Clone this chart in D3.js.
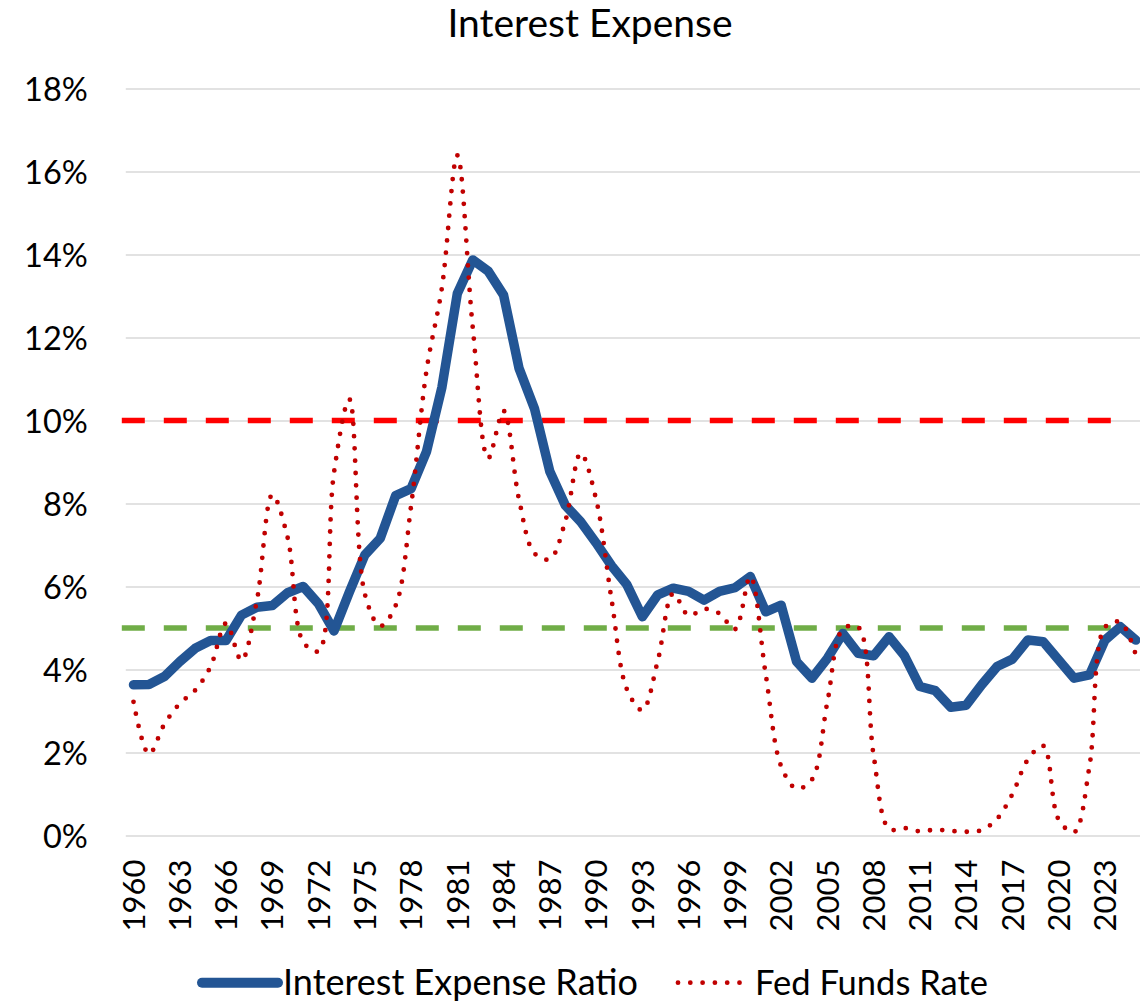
<!DOCTYPE html>
<meta charset="utf-8">
<style>
  body { margin: 0; background: #fff; }
  svg text { font-family: Lato, "Open Sans", sans-serif; fill: #000; }
</style>
<svg width="1140" height="1001" class="chart"></svg>
<script src="https://cdn.jsdelivr.net/npm/d3@7/dist/d3.min.js"></script>
<script>

// categories: one per year, labels every 3rd year
var years = [1960, 1961, 1962, 1963, 1964, 1965, 1966, 1967, 1968, 1969,
    1970, 1971, 1972, 1973, 1974, 1975, 1976, 1977, 1978, 1979,
    1980, 1981, 1982, 1983, 1984, 1985, 1986, 1987, 1988, 1989,
    1990, 1991, 1992, 1993, 1994, 1995, 1996, 1997, 1998, 1999,
    2000, 2001, 2002, 2003, 2004, 2005, 2006, 2007, 2008, 2009,
    2010, 2011, 2012, 2013, 2014, 2015, 2016, 2017, 2018, 2019,
    2020, 2021, 2022, 2023, 2024, 2025];

var yearLabels = [1960, 1963, 1966, 1969, 1972, 1975, 1978, 1981, 1984, 1987, 1990,
    1993, 1996, 1999, 2002, 2005, 2008, 2011, 2014, 2017, 2020, 2023];

// % values
var interestRatio = [3.63, 3.64, 3.83, 4.19, 4.51, 4.70, 4.70, 5.31, 5.50, 5.54,
    5.85, 6.00, 5.58, 4.93, 5.87, 6.76, 7.16, 8.19, 8.36, 9.25,
    10.8, 13.06, 13.87, 13.6, 13.02, 11.26, 10.29, 8.77, 7.96, 7.56,
    7.05, 6.5, 6.04, 5.27, 5.80, 5.96, 5.88, 5.67, 5.88, 5.97,
    6.24, 5.39, 5.55, 4.19, 3.79, 4.27, 4.87, 4.39, 4.33, 4.79,
    4.33, 3.59, 3.49, 3.09, 3.14, 3.63, 4.07, 4.25, 4.71, 4.67,
    4.23, 3.79, 3.87, 4.71, 5.03, 4.71];

var fedFunds = [3.22, 1.96, 2.68, 3.18, 3.50, 4.07, 5.11, 4.22, 5.66, 8.21,
    7.17, 4.67, 4.44, 8.74, 10.51, 5.82, 5.05, 5.54, 7.94, 11.2,
    13.2, 16.39, 12.24, 9.09, 10.23, 8.10, 6.80, 6.66, 7.57, 9.21,
    8.10, 5.69, 3.52, 3.02, 4.21, 5.83, 5.30, 5.46, 5.35, 4.97,
    6.24, 3.88, 1.67, 1.13, 1.35, 3.22, 4.97, 5.02, 1.92, 0.16,
    0.18, 0.10, 0.14, 0.11, 0.09, 0.13, 0.40, 1.00, 1.83, 2.16,
    0.38, 0.08, 1.68, 5.02, 5.14, 4.35];

var yTicks = [0, 2, 4, 6, 8, 10, 12, 14, 16, 18];

// horizontal reference levels (they stop at 2023)
var refLevels = [10, 5];
var refColors = ["#FF0000", "#70AD47"];
var refEnd = 2023;

var seriesNames = ["Interest Expense Ratio", "Fed Funds Rate"];

var svg = d3.select("svg.chart"),
    margin = {top: 88.5, left: 125.8, bottom: 165.5},
    band = 15.42,
    width = band * years.length,
    height = +svg.attr("height") - margin.top - margin.bottom;

var x = d3.scaleBand()
    .domain(years)
    .range([0, width])
    .padding(0);

var y = d3.scaleLinear()
    .domain([0, 18])
    .range([height, 0]);

function cx(d, i) { return x(years[i]) + x.bandwidth() / 2; }

svg.append("text")
    .attr("x", 590)
    .attr("y", 36.7)
    .attr("text-anchor", "middle")
    .style("font-size", "39px")
    .text("Interest Expense");

var g = svg.append("g")
    .attr("transform", "translate(" + margin.left + "," + margin.top + ")");

// gridlines
var yAxis = d3.axisLeft(y)
    .tickValues(yTicks)
    .tickSize(-(width + 2))
    .tickPadding(38)
    .tickFormat(function(d) { return d + "%"; });

g.append("g")
    .attr("class", "axis axis--y")
    .call(yAxis)
    .call(function(a) {
        a.select(".domain").remove();
        a.selectAll(".tick line").attr("stroke", "#D9D9D9").attr("stroke-width", 1.6);
        a.selectAll(".tick text").style("font-size", "32.5px").attr("dy", "0.36em");
    });

// x axis: rotated year labels, no line, no ticks
var xAxis = d3.axisBottom(x)
    .tickValues(yearLabels)
    .tickSize(0)
    .tickFormat(d3.format("d"));

g.append("g")
    .attr("class", "axis axis--x")
    .attr("transform", "translate(0," + height + ")")
    .call(xAxis)
    .call(function(a) {
        a.select(".domain").remove();
        a.selectAll(".tick text")
            .style("font-size", "31px")
            .attr("text-anchor", "end")
            .attr("transform", "translate(0,24) rotate(-90)")
            .attr("x", 0)
            .attr("y", 0)
            .attr("dy", "0.36em");
    });

// reference dashed lines
g.selectAll("line.ref")
    .data(refLevels)
    .enter()
    .append("line")
    .classed("ref", true)
    .attr("x1", x(years[0]) - 4)
    .attr("x2", x(refEnd) + x.bandwidth())
    .attr("y1", function(d) { return y(d); })
    .attr("y2", function(d) { return y(d); })
    .attr("stroke", function(d, i) { return refColors[i]; })
    .attr("stroke-width", 5.5)
    .attr("stroke-dasharray", "23,19");

var ratioLine = d3.line()
    .x(cx)
    .y(function(d) { return y(d); });

var fedLine = d3.line()
    .curve(d3.curveCatmullRom.alpha(0.5))
    .x(cx)
    .y(function(d) { return y(d); });

g.append("path")
    .datum(interestRatio)
    .attr("fill", "none")
    .attr("stroke", "#235594")
    .attr("stroke-width", 9.5)
    .attr("stroke-linejoin", "round")
    .attr("stroke-linecap", "round")
    .attr("d", ratioLine);

g.append("path")
    .datum(fedFunds)
    .attr("fill", "none")
    .attr("stroke", "#C00000")
    .attr("stroke-width", 4.8)
    .attr("stroke-linecap", "round")
    .attr("stroke-dasharray", "0,12.3")
    .attr("d", fedLine);

// legend
var legend = svg.append("g").attr("class", "legend");

legend.append("line")
    .attr("x1", 202).attr("x2", 278)
    .attr("y1", 982.7).attr("y2", 982.7)
    .attr("stroke", "#235594")
    .attr("stroke-width", 10)
    .attr("stroke-linecap", "round");

legend.append("text")
    .attr("x", 283)
    .attr("y", 994.5)
    .style("font-size", "36px")
    .text(seriesNames[0]);

legend.append("line")
    .attr("x1", 678).attr("x2", 742)
    .attr("y1", 982.7).attr("y2", 982.7)
    .attr("stroke", "#C00000")
    .attr("stroke-width", 4.8)
    .attr("stroke-linecap", "round")
    .attr("stroke-dasharray", "0,12.3");

legend.append("text")
    .attr("x", 755)
    .attr("y", 994.5)
    .style("font-size", "34.5px")
    .text(seriesNames[1]);

</script>
